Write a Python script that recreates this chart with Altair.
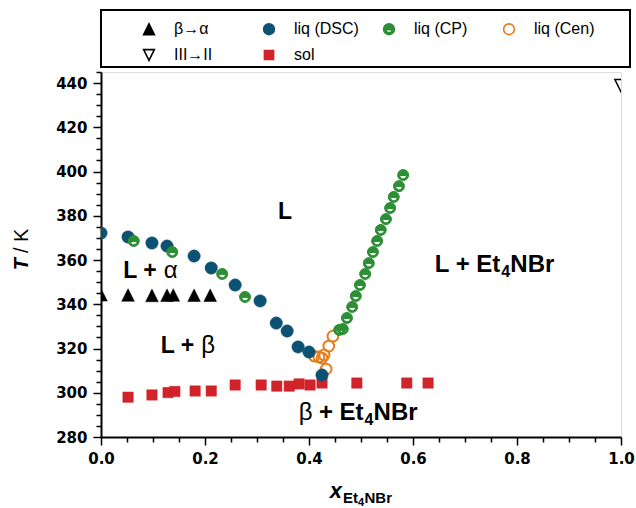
import altair as alt
import pandas as pd

# ---------------- data ----------------
beta_alpha_x = [0.000, 0.052, 0.098, 0.127, 0.139, 0.179, 0.210]
beta_alpha_T = [344.3, 344.2, 344.0, 344.1, 344.2, 344.1, 344.1]

iii_ii_x = [1.000]
iii_ii_T = [438.8]

dsc_x = [0.000, 0.052, 0.098, 0.127, 0.179, 0.212, 0.258, 0.306, 0.337, 0.358, 0.379, 0.400, 0.425]
dsc_T = [372.2, 370.4, 367.7, 366.3, 361.8, 356.4, 348.7, 341.5, 331.5, 327.9, 320.7, 318.4, 308.0]

cp_x = [0.063, 0.137, 0.233, 0.277, 0.458, 0.465, 0.473, 0.483, 0.490, 0.498, 0.508, 0.515,
        0.523, 0.531, 0.538, 0.548, 0.556, 0.563, 0.573, 0.581]
cp_T = [368.6, 363.6, 353.7, 343.3, 328.4, 328.8, 333.8, 338.8, 343.7, 348.7, 353.7, 358.6,
        363.6, 368.6, 373.6, 378.5, 383.5, 388.5, 393.4, 398.4]

cen_x = [0.410, 0.419, 0.425, 0.429, 0.438, 0.446, 0.433]
cen_T = [316.6, 316.2, 315.7, 317.1, 321.1, 325.6, 310.7]

sol_x = [0.052, 0.098, 0.129, 0.142, 0.181, 0.212, 0.258, 0.308, 0.338, 0.362, 0.381, 0.402,
         0.425, 0.492, 0.588, 0.629]
sol_T = [298.0, 299.0, 300.1, 300.6, 300.8, 300.8, 303.5, 303.5, 303.0, 303.0, 304.0, 303.5,
         304.4, 304.4, 304.4, 304.4]

series_names = ["β→α", "liq (DSC)", "liq (CP)", "liq (Cen)", "III→II", "sol"]

# ---------------- styles ----------------
BLUE = "#0E5273"
GREEN = "#2D8F35"
ORANGE = "#E67E1E"
RED = "#D2232A"

TRI_UP = "M0,-1L1,1L-1,1Z"
TRI_DOWN = "M0,1L1,-1L-1,-1Z"
SQUARE = "M-0.85,-0.85L0.85,-0.85L0.85,0.85L-0.85,0.85Z"
CP_PATH = ("M-1,0A1,1 0 1,1 1,0A1,1 0 1,1 -1,0Z"
           "M-0.6,0.08A0.6,0.6 0 0,0 0.6,0.08Z")

fill_range = ["black", BLUE, GREEN, "transparent", "transparent", RED]
stroke_range = ["black", BLUE, GREEN, ORANGE, "black", RED]
shape_range = [TRI_UP, "circle", CP_PATH, "circle", TRI_DOWN, SQUARE]

legend = alt.Legend(
    title=None, orient="none", legendX=40, legendY=-51, columns=4, gridAlign="all",
    direction="horizontal", values=series_names,
    columnPadding=21, rowPadding=8, symbolSize=115, symbolStrokeWidth=1.6,
    labelFont="Liberation Sans", labelFontSize=16, labelColor="black", labelOffset=17,
    padding=0,
)

fill_enc = alt.Fill("series:N", scale=alt.Scale(domain=series_names, range=fill_range), legend=legend)
stroke_enc = alt.Stroke("series:N", scale=alt.Scale(domain=series_names, range=stroke_range), legend=legend)
shape_enc = alt.Shape("series:N", scale=alt.Scale(domain=series_names, range=shape_range), legend=legend)

xscale = alt.Scale(domain=[0, 1], nice=False, zero=False)
yscale = alt.Scale(domain=[280, 445], nice=False, zero=False)

x_ticks = [round(i * 0.05, 2) for i in range(21)]
y_ticks = list(range(280, 446, 5))

common_axis = dict(
    grid=False, domainColor="black", domainWidth=2, tickColor="black", tickWidth=1.5,
    labelFont="DejaVu Sans", labelFontWeight="bold", labelFontSize=15, labelColor="black",
    labelOverlap=False, labelFlush=False, title=None,
)

xaxis = alt.Axis(
    values=x_ticks, orient="bottom", labelPadding=6,
    tickSize={"condition": {"test": "abs(datum.value*5 - round(datum.value*5)) < 1e-6", "value": 8}, "value": 5},
    labelExpr="abs(datum.value*5 - round(datum.value*5)) < 1e-6 ? format(datum.value, '.1f') : ''",
    **common_axis,
)
yaxis = alt.Axis(
    values=y_ticks, orient="left", labelPadding=6,
    tickSize={"condition": {"test": "datum.value % 20 === 0", "value": 8}, "value": 5},
    labelExpr="datum.value % 20 === 0 ? datum.label : ''",
    **common_axis,
)

x_enc = alt.X("x:Q", scale=xscale, axis=xaxis)
y_enc = alt.Y("T:Q", scale=yscale, axis=yaxis)


def series_layer(xs, Ts, name, size, sw):
    df = pd.DataFrame({"x": xs, "T": Ts, "series": name})
    return alt.Chart(df).mark_point(size=size, strokeWidth=sw, opacity=1, clip=True).encode(
        x=x_enc, y=y_enc, fill=fill_enc, stroke=stroke_enc, shape=shape_enc
    )


layers = [
    series_layer(sol_x, sol_T, "sol", 150, 0.5),
    series_layer(cen_x, cen_T, "liq (Cen)", 115, 2),
    series_layer(dsc_x, dsc_T, "liq (DSC)", 155, 0.5),
    series_layer(cp_x, cp_T, "liq (CP)", 120, 1),
    series_layer(beta_alpha_x, beta_alpha_T, "β→α", 160, 0.5),
    series_layer(iii_ii_x, iii_ii_T, "III→II", 150, 1.5),
]


# ---------------- text annotations ----------------
def label(x, T, s, size, weight="bold", style="normal", align="left", dx=0, dy=0):
    return alt.Chart(alt.Data(values=[{"x": x, "T": T}])).mark_text(
        text=s, fontSize=size, fontWeight=weight, fontStyle=style, align=align,
        baseline="alphabetic", dx=dx, dy=dy, font="Liberation Sans", color="black",
    ).encode(x=x_enc, y=y_enc)


def pix(xp, yp, s, size, weight="bold", style="normal", align="left", dx=0, dy=0, angle=0,
        baseline="alphabetic"):
    return alt.Chart(alt.Data(values=[{}])).mark_text(
        text=s, fontSize=size, fontWeight=weight, fontStyle=style, align=align,
        baseline=baseline, dx=dx, dy=dy, angle=angle, font="Liberation Sans", color="black",
    ).encode(x=alt.value(xp), y=alt.value(yp))


annotations = [
    label(0.354, 378.5, "L", 23, align="center"),
    label(0.113, 352.0, "L +", 23, align="right", dx=-3),
    label(0.113, 352.0, "α", 24, weight="normal", align="left", dx=4),
    label(0.185, 318.0, "L +", 23, align="right", dx=-3),
    label(0.185, 318.0, "β", 24, weight="normal", align="left", dx=4),
    label(0.768, 354.6, "L + Et", 24, align="right"),
    label(0.768, 354.6, "4", 16, align="left", dx=1, dy=5),
    label(0.768, 354.6, "NBr", 24, align="left", dx=10),
    label(0.505, 287.5, "β", 24, weight="normal", align="right", dx=-51),
    label(0.505, 287.5, "+ Et", 24, align="right"),
    label(0.505, 287.5, "4", 16, align="left", dx=1, dy=5),
    label(0.505, 287.5, "NBr", 24, align="left", dx=10),
    # axis titles
    pix(241, 426, "x", 22, style="italic", align="right"),
    pix(241, 431, "Et", 15, align="left", dx=1),
    pix(241, 431, "4", 11, align="left", dx=16, dy=3),
    pix(241, 431, "NBr", 15, align="left", dx=22.5),
    pix(-79, 186, "T", 20, style="italic", align="right", angle=270, baseline="middle"),
    pix(-79, 186, "/ K", 20, weight="normal", align="left", dx=5, angle=270, baseline="middle"),
]

legend_box = alt.Chart(alt.Data(values=[{}])).mark_rect(
    filled=False, stroke="black", strokeWidth=2
).encode(x=alt.value(0), x2=alt.value(529), y=alt.value(-62), y2=alt.value(-5))

chart = alt.layer(*layers, *annotations, legend_box).properties(
    width=520, height=365,
    autosize=alt.AutoSizeParams(type="none"),
    padding={"left": 101, "top": 72, "right": 15, "bottom": 71},
).configure_view(stroke="black", strokeWidth=2).configure(background="white")

chart.save("out.html", embed_options={"renderer": "svg", "actions": False})
